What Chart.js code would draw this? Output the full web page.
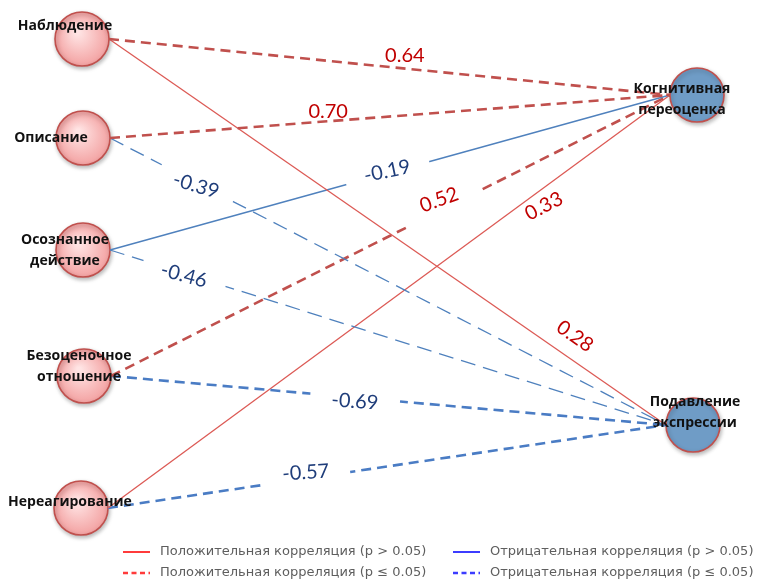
<!DOCTYPE html>
<html lang="ru">
<head>
<meta charset="utf-8">
<title>Корреляции</title>
<script src="https://cdn.jsdelivr.net/npm/chart.js@4.4.1/dist/chart.umd.min.js"></script>
<style>
html, body { margin:0; padding:0; background:#fff; }
#chartBox { position:relative; width:757px; height:581px; }
</style>
</head>
<body>
<div id="chartBox"><canvas id="myChart"></canvas></div>
<script>
/*
 данные
   nodeNames / nodeX / nodeY : узлы схемы (5 аспектов осознанности слева, 2 стратегии справа)
   edgeFrom / edgeTo / edgeR / edgeSig : связи, коэффициент корреляции и значимость (p <= 0.05)
*/
var nodeNames = ['Наблюдение', 'Описание', 'Осознанное\nдействие', 'Безоценочное\nотношение', 'Нереагирование',
                 'Когнитивная\nпереоценка', 'Подавление\nэкспрессии'];
var nodeX = [82, 83, 83, 84, 81, 697, 693];
var nodeY = [39, 138, 250, 376, 508, 95, 425];

var edgeFrom = [0, 1, 0, 1, 2, 2, 3, 3, 4, 4];
var edgeTo   = [5, 5, 6, 6, 5, 6, 5, 6, 5, 6];
var edgeR    = [0.64, 0.70, 0.28, -0.39, -0.19, -0.46, 0.52, -0.69, 0.33, -0.57];
var edgeSig  = [true, true, false, true, false, true, true, true, false, true];

var legendLabels = ['Положительная корреляция (p > 0.05)', 'Положительная корреляция (p ≤ 0.05)',
                    'Отрицательная корреляция (p > 0.05)', 'Отрицательная корреляция (p ≤ 0.05)'];

// оформление
var NODE_R = 27;
var RIGHT_FIRST = 5;          // с этого индекса узлы справа
var thinDashed = [3, 5];      // эти связи нарисованы тонким пунктиром
// подписи связей: t - доля вдоль линии, off - смещение поперёк, rot - поворот, gap - разрыв линии
var labelPos = [
	{t:0.525, off:-13, rot:0,   gap:0},
	{t:0.391, off:-10, rot:0,   gap:0},
	{t:0.815, off:-21, rot:35,  gap:0},
	{t:0.157, off:3,   rot:17,  gap:80},
	{t:0.496, off:-2,  rot:-12, gap:86},
	{t:0.134, off:2,   rot:15,  gap:86},
	{t:0.595, off:-10, rot:-20, gap:80},
	{t:0.440, off:4,   rot:4,   gap:90},
	{t:0.760, off:15,  rot:-27, gap:0},
	{t:0.356, off:-6,  rot:-4,  gap:88}
];
// подписи узлов: сдвиг центра первой строки от центра круга
var nodeLabelDx = [-17, -32, -18, -5, -11, -15, 2];
var nodeLabelDy = [-13, 0, -10, -20, -6, -6, -23];

function edgeStyle(i){
	var pos = edgeR[i] > 0;
	if(pos && edgeSig[i]) return {color:'#c0504d', width:2.6, dash:[10, 6]};
	if(pos) return {color:'#dc5a55', width:1.3, dash:[]};
	if(!edgeSig[i]) return {color:'#4f81bd', width:1.4, dash:[]};
	if(thinDashed.indexOf(i) >= 0) return {color:'#4f81bd', width:1.3, dash:[15, 8]};
	return {color:'#4a7cc4', width:2.6, dash:[10, 6]};
}

// концы связи: правый край левого круга -> левый край правого круга
function edgePoints(i){
	var a = edgeFrom[i], b = edgeTo[i];
	return [{x:nodeX[a] + NODE_R, y:nodeY[a]}, {x:nodeX[b] - NODE_R, y:nodeY[b]}];
}

function edgePixels(chart, i){
	var p = edgePoints(i), xs = chart.scales.x, ys = chart.scales.y;
	var x1 = xs.getPixelForValue(p[0].x), y1 = ys.getPixelForValue(p[0].y);
	var x2 = xs.getPixelForValue(p[1].x), y2 = ys.getPixelForValue(p[1].y);
	var dx = x2 - x1, dy = y2 - y1, len = Math.sqrt(dx*dx + dy*dy);
	return {x1:x1, y1:y1, len:len, ux:dx/len, uy:dy/len};
}

var datasets = [];
datasets.push({
	type:'scatter',
	label:'nodes',
	order:2,
	data:nodeX.map(function(x, i){ return {x:x, y:nodeY[i]}; }),
	pointRadius:NODE_R,
	pointHoverRadius:NODE_R,
	pointBorderColor:'#c0504d',
	pointBorderWidth:1.6,
	pointBackgroundColor:function(c){
		var i = c.dataIndex;
		if(i >= RIGHT_FIRST) return '#6f9cc6';
		var chart = c.chart;
		if(!chart.chartArea || !chart.scales.x) return '#f8b8b8';
		var x = chart.scales.x.getPixelForValue(nodeX[i]);
		var y = chart.scales.y.getPixelForValue(nodeY[i]);
		var g = chart.ctx.createRadialGradient(x - 5, y - 7, 2, x, y, NODE_R);
		g.addColorStop(0, '#ffe4e4');
		g.addColorStop(1, '#f3a2a2');
		return g;
	}
});
for(var i = 0; i < edgeR.length; i++){
	var st = edgeStyle(i);
	datasets.push({
		type:'line',
		label:'edge' + i,
		order:1,
		edgeIndex:i,
		data:edgePoints(i),
		borderColor:st.color,
		borderWidth:st.width,
		borderDash:st.dash,
		borderCapStyle:'butt',
		pointRadius:0,
		fill:false,
		tension:0
	});
}

var diagramPlugin = {
	id:'diagram',
	beforeDatasetDraw:function(chart, args){
		var ds = chart.data.datasets[args.index], ctx = chart.ctx;
		ctx.save();
		if(ds.label === 'nodes'){
			ctx.shadowColor = 'rgba(0,0,0,0.28)';
			ctx.shadowBlur = 4;
			ctx.shadowOffsetX = 1;
			ctx.shadowOffsetY = 2;
			return;
		}
		var lp = labelPos[ds.edgeIndex];
		if(!lp.gap) return;
		// разрыв линии под подписью
		var e = edgePixels(chart, ds.edgeIndex);
		var cx = e.x1 + e.ux*e.len*lp.t, cy = e.y1 + e.uy*e.len*lp.t;
		var hx = e.ux*lp.gap/2, hy = e.uy*lp.gap/2, nx = -e.uy*8, ny = e.ux*8;
		ctx.beginPath();
		ctx.rect(0, 0, chart.width, chart.height);
		ctx.moveTo(cx - hx - nx, cy - hy - ny);
		ctx.lineTo(cx + hx - nx, cy + hy - ny);
		ctx.lineTo(cx + hx + nx, cy + hy + ny);
		ctx.lineTo(cx - hx + nx, cy - hy + ny);
		ctx.closePath();
		ctx.clip('evenodd');
	},
	afterDatasetDraw:function(chart){
		chart.ctx.restore();
	},
	afterDatasetsDraw:function(chart){
		var ctx = chart.ctx, xs = chart.scales.x, ys = chart.scales.y;
		ctx.save();
		// подписи коэффициентов
		ctx.font = '20px Lato, "Open Sans", sans-serif';
		ctx.textAlign = 'center';
		ctx.textBaseline = 'middle';
		for(var i = 0; i < edgeR.length; i++){
			var lp = labelPos[i], e = edgePixels(chart, i);
			var x = e.x1 + e.ux*e.len*lp.t - e.uy*lp.off;
			var y = e.y1 + e.uy*e.len*lp.t + e.ux*lp.off;
			ctx.save();
			ctx.translate(x, y);
			ctx.rotate(lp.rot*Math.PI/180);
			ctx.fillStyle = edgeR[i] > 0 ? '#c00000' : '#1f3d7a';
			ctx.fillText(edgeR[i].toFixed(2), 0, 0);
			ctx.restore();
		}
		// названия узлов
		ctx.font = 'bold 14px "Open Sans", "Noto Sans", sans-serif';
		ctx.fillStyle = '#111';
		for(var k = 0; k < nodeNames.length; k++){
			var px = xs.getPixelForValue(nodeX[k]) + nodeLabelDx[k];
			var py = ys.getPixelForValue(nodeY[k]) + nodeLabelDy[k];
			var lines = nodeNames[k].split('\n');
			for(var j = 0; j < lines.length; j++){
				ctx.fillText(lines[j], px, py + j*21);
			}
		}
		ctx.restore();
	},
	afterDraw:function(chart){
		// легенда
		var ctx = chart.ctx;
		var colX = [123, 453], rowY = [552, 573];
		var colors = ['#ff3b3b', '#3c3cff'];
		ctx.save();
		ctx.font = '13px "DejaVu Sans", sans-serif';
		ctx.fillStyle = '#5e5e5e';
		ctx.textAlign = 'left';
		ctx.textBaseline = 'middle';
		for(var c = 0; c < 2; c++){
			for(var r = 0; r < 2; r++){
				ctx.beginPath();
				ctx.strokeStyle = colors[c];
				ctx.lineWidth = r === 0 ? 2 : 2.5;
				ctx.setLineDash(r === 0 ? [] : [5, 3.5]);
				ctx.moveTo(colX[c], rowY[r]);
				ctx.lineTo(colX[c] + 27, rowY[r]);
				ctx.stroke();
				ctx.fillText(legendLabels[c*2 + r], colX[c] + 37, rowY[r]);
			}
		}
		ctx.restore();
	}
};

var ctx = document.getElementById('myChart').getContext('2d');
var myChart = new Chart(ctx, {
	data:{datasets:datasets},
	options:{
		responsive:true,
		maintainAspectRatio:false,
		animation:false,
		events:[],
		layout:{padding:0, autoPadding:false},
		scales:{
			x:{type:'linear', min:0, max:757, display:false},
			y:{type:'linear', min:0, max:581, reverse:true, display:false}
		},
		plugins:{legend:{display:false}, tooltip:{enabled:false}}
	},
	plugins:[diagramPlugin]
});
</script>
</body>
</html>
